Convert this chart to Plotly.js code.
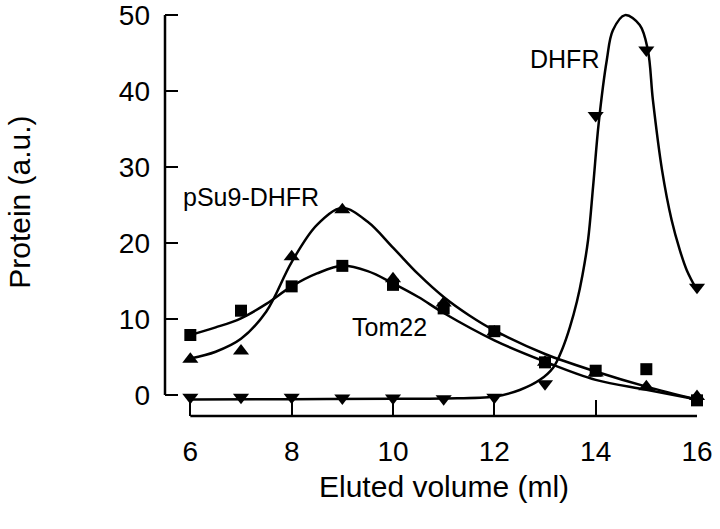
<!DOCTYPE html>
<html>
<head>
<meta charset="utf-8">
<script src="https://cdn.plot.ly/plotly-3.0.1.min.js"></script>
<style>
  html, body { margin: 0; padding: 0; background: #fff; }
  #chart { width: 720px; height: 529px; }
</style>
</head>
<body>
<div id="chart"></div>
<script>
// measured fractions (points)
const volume = [6, 7, 8, 9, 10, 11, 12, 13, 14, 15, 16];
const tom22 = [7.9, 11.1, 14.3, 17.0, 14.5, 11.4, 8.4, 4.3, 3.2, 3.4, -0.7];
const psu9 = [4.7, 5.8, 18.2, 24.4, 15.3, 12.1, 8.3, 4.3, 2.9, 1.1, -0.2];
const dhfr = [-0.3, -0.3, -0.3, -0.4, -0.4, -0.5, -0.3, 1.5, 36.8, 45.4, 14.2];

// fitted curves
const tom22FitX = [6, 6.5, 7, 7.5, 8, 8.5, 9, 9.5, 10, 10.5, 11, 12, 13, 14, 15, 16];
const tom22FitY = [7.9, 8.9, 10.1, 12.0, 14.3, 16.0, 17.0, 16.3, 14.7, 12.9, 10.8, 7.2, 4.4, 2.0, 0.7, -0.6];
const psu9FitX = [6, 6.5, 7, 7.5, 8, 8.5, 9, 9.5, 10, 10.5, 11, 11.5, 12, 13, 14, 15, 16];
const psu9FitY = [4.8, 5.7, 7.4, 11.0, 17.5, 22.4, 24.6, 22.8, 19.4, 15.9, 12.9, 10.5, 8.5, 5.4, 3.1, 1.1, -0.6];
const dhfrFitX = [6, 8, 10, 11, 12, 12.5, 12.9, 13.16, 13.35, 13.49, 13.63, 13.74, 13.85, 13.95, 14.06, 14.22, 14.34, 14.58, 14.87, 15.03, 15.13, 15.31, 15.5, 15.66, 15.8, 16];
const dhfrFitY = [-0.6, -0.55, -0.5, -0.45, -0.2, 0.66, 2.0, 3.6, 6.2, 8.9, 12.3, 15.8, 20.4, 27.5, 35.8, 44.1, 48.0, 50.0, 48.7, 45.4, 38.8, 29.6, 23.0, 19.1, 16.4, 13.8];

const xTicks = [6, 8, 10, 12, 14, 16];
const yTicks = [0, 10, 20, 30, 40, 50];

const font = 'Liberation Sans, Arial, Helvetica, sans-serif';

function fitTrace(x, y) {
  return {
    x: x, y: y, mode: 'lines', type: 'scatter',
    line: { color: '#000', width: 2.5, shape: 'spline', smoothing: 1 },
    hoverinfo: 'skip', showlegend: false
  };
}

function pointTrace(y, symbol, size) {
  return {
    x: volume, y: y, mode: 'markers', type: 'scatter',
    marker: { color: '#000', symbol: symbol, size: size },
    cliponaxis: false, showlegend: false
  };
}

const traces = [
  fitTrace(tom22FitX, tom22FitY),
  fitTrace(psu9FitX, psu9FitY),
  fitTrace(dhfrFitX, dhfrFitY),
  pointTrace(tom22, 'square', 12),
  pointTrace(psu9, 'triangle-up', 14),
  pointTrace(dhfr, 'triangle-down', 14)
];

const layout = {
  width: 720,
  height: 529,
  margin: { l: 165, r: 23, t: 6, b: 113 },
  paper_bgcolor: '#fff',
  plot_bgcolor: '#fff',
  font: { family: font, color: '#000' },
  showlegend: false,
  xaxis: {
    range: [5.5, 16],
    tickvals: xTicks,
    ticks: 'inside', ticklen: 16, tickwidth: 2, tickcolor: '#000',
    showline: false, showgrid: false, zeroline: false,
    ticklabelstandoff: 16, ticklabeloverflow: 'allow',
    tickfont: { size: 28, family: font }
  },
  yaxis: {
    range: [-2.76, 51.2],
    tickvals: yTicks,
    ticks: 'inside', ticklen: 13, tickwidth: 2, tickcolor: '#000',
    showline: false, showgrid: false, zeroline: false,
    ticklabelstandoff: 14, ticklabeloverflow: 'allow',
    tickfont: { size: 28, family: font }
  },
  shapes: [
    { type: 'line', xref: 'paper', x0: 0, x1: 0, yref: 'y', y0: 0, y1: 50,
      line: { color: '#000', width: 2.5 } },
    { type: 'line', xref: 'x', x0: 6, x1: 16, yref: 'paper', y0: 0, y1: 0,
      line: { color: '#000', width: 2.5 } }
  ],
  annotations: [
    { text: 'Eluted volume (ml)', xref: 'x', x: 11, yref: 'paper', y: 0, yshift: -70,
      yanchor: 'middle', showarrow: false, font: { size: 30 } },
    { text: 'Protein (a.u.)', xref: 'paper', x: 0, xshift: -145, yref: 'paper', y: 0.52,
      textangle: -90, xanchor: 'center', yanchor: 'middle', showarrow: false, font: { size: 30 } },
    { text: 'pSu9-DHFR', xref: 'x', x: 7.19, yref: 'y', y: 26.1, showarrow: false, font: { size: 25 } },
    { text: 'DHFR', xref: 'x', x: 13.39, yref: 'y', y: 44.2, showarrow: false, font: { size: 25 } },
    { text: 'Tom22', xref: 'x', x: 9.94, yref: 'y', y: 8.9, showarrow: false, font: { size: 25 } }
  ]
};

Plotly.newPlot('chart', traces, layout, { staticPlot: true });
</script>
</body>
</html>
